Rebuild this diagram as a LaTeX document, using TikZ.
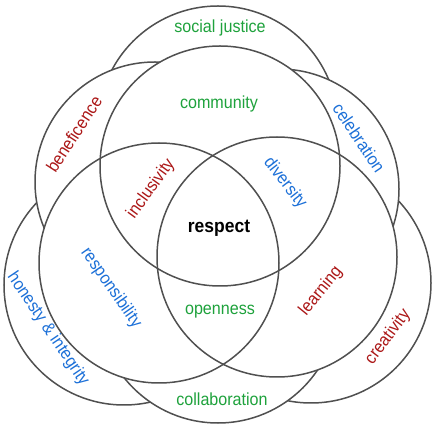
\documentclass[tikz,border=0pt]{standalone}
\usepackage{fontspec}
\newfontfamily\lblfont[FakeStretch=0.92]{Liberation Sans}
\definecolor{cgreen}{RGB}{30,162,60}
\definecolor{cred}{RGB}{172,24,24}
\definecolor{cblue}{RGB}{28,112,216}
\definecolor{ringgray}{RGB}{80,80,80}
\begin{document}
\begin{tikzpicture}[x=1pt,y=-1pt,
  ring/.style={circle, draw=ringgray, line width=1.5pt, fill=white, minimum size=240pt, inner sep=0pt},
  ringfill/.style={circle, fill=white, minimum size=240pt, inner sep=0pt},
  ringline/.style={circle, draw=ringgray, line width=1.5pt, minimum size=240pt, inner sep=0pt},
  lbl/.style={font=\lblfont\fontsize{17.5}{20}\selectfont, inner sep=0pt},
  g/.style={lbl, text=cgreen},
  r/.style={lbl, text=cred},
  b/.style={lbl, text=cblue}]
\useasboundingbox (0,0) rectangle (434,430);
\fill[white] (0,0) rectangle (434,430);
% outer circles, back layer
\node[ring] (sj) at (218,126) {};
\node[ring] (hon) at (124,285) {};
\node[ring] (cre) at (311,283) {};
% outer circles, front layer
\node[ring] (ben) at (155,182) {};
\node[ring] (cel) at (279,189) {};
\node[ring] (col) at (218,303) {};
% inner circles
\node[ringfill] (commf) at (220,166) {};
\node[ringfill] (leftf) at (159,263) {};
\node[ringfill] (rightf) at (277,257) {};
\node[ringline] (comm) at (220,166) {};
\node[ringline] (left) at (159,263) {};
\node[ringline] (right) at (277,257) {};
% labels
\node[g] (tsj) at (220,28) {social justice};
\node[g] (tcomm) at (219,104) {community};
\node[r, rotate=57] (tben) at (74,134) {beneficence};
\node[b, rotate=-56] (tcel) at (359,138) {celebration};
\node[r, rotate=54] (tinc) at (151,189) {inclusivity};
\node[b, rotate=-52] (tdiv) at (285,183) {diversity};
\node[lbl, font=\lblfont\bfseries\fontsize{19}{22}\selectfont] (tres) at (219,228) {respect};
\node[b, rotate=-55] (tresp) at (111,288) {responsibility};
\node[b, rotate=-56] (thon) at (48,329) {honesty \& integrity};
\node[g] (topen) at (220,312) {openness};
\node[r, rotate=51] (tlearn) at (321,291) {learning};
\node[r, rotate=53] (tcre) at (388,337) {creativity};
\node[g] (tcol) at (222,399) {collaboration};
\end{tikzpicture}
\end{document}
